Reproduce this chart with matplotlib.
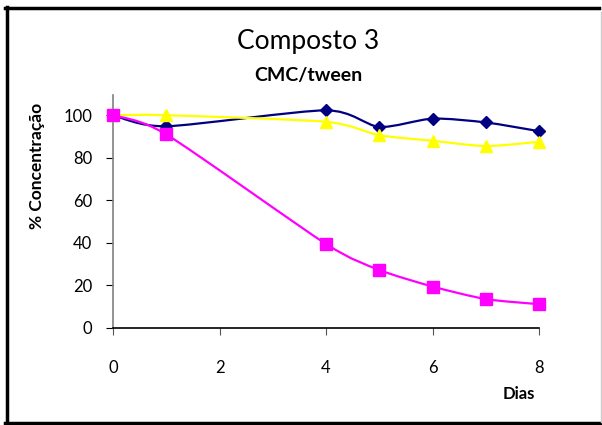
import matplotlib
matplotlib.use("Agg")
import matplotlib.pyplot as plt
from matplotlib.path import Path
from matplotlib.patches import PathPatch
from matplotlib.lines import Line2D
import numpy as np

plt.rcParams['font.family'] = ['Lato', 'DejaVu Sans']

# Dados
dias = [0, 1, 4, 5, 6, 7, 8]
serie_azul = [100, 94.8, 102.3, 94.5, 98.4, 96.6, 92.5]
serie_rosa = [100, 91, 39.5, 27.3, 19.5, 13.6, 11.2]
serie_amarela = [100, 100, 96.9, 90.6, 88, 85.5, 87.5]
xticks = [0, 2, 4, 6, 8]
yticks = [0, 20, 40, 60, 80, 100]


def smooth_path(x, y, k=1 / 8):
    # curva suavizada tipo Excel (Bezier por pontos de controlo)
    p = np.column_stack([x, y]).astype(float)
    verts = [p[0]]
    codes = [Path.MOVETO]
    n = len(p)
    for i in range(n - 1):
        p0 = p[i - 1] if i > 0 else p[i]
        p3 = p[i + 2] if i + 2 < n else p[i + 1]
        c1 = p[i] + (p[i + 1] - p0) * k
        c2 = p[i + 1] - (p3 - p[i]) * k
        verts += [c1, c2, p[i + 1]]
        codes += [Path.CURVE4] * 3
    return Path(verts, codes)


fig = plt.figure(figsize=(6.02, 4.25), dpi=100)
ax = fig.add_axes([113 / 602, 97 / 425, 426 / 602, 233 / 425])

for ys, col, mk, ms in [(serie_azul, '#000080', 'D', 6),
                        (serie_amarela, '#FFFF00', '^', 9),
                        (serie_rosa, '#FF00FF', 's', 8)]:
    ax.add_patch(PathPatch(smooth_path(dias, ys), facecolor='none',
                           edgecolor=col, lw=1.6, clip_on=False))
    ax.plot(dias, ys, linestyle='none', marker=mk, color=col, ms=ms,
            mec=col, clip_on=False, zorder=3)

ax.set_xlim(0, 8)
ax.set_ylim(0, 109.5)
ax.set_xticks(xticks)
ax.set_yticks(yticks)
ax.spines['top'].set_visible(False)
ax.spines['right'].set_visible(False)
ax.spines['left'].set_color('#808080')
ax.spines['left'].set_linewidth(1.2)
ax.spines['bottom'].set_color('black')
ax.spines['bottom'].set_linewidth(1.2)
ax.tick_params(axis='x', direction='out', length=5, pad=18, labelsize=12,
               color='#555555')
ax.tick_params(axis='y', direction='out', length=5, pad=10, labelsize=12,
               color='black')

fig.text(308 / 602, 1 - 42 / 425, 'Composto 3', ha='center', va='center',
         fontsize=19)
fig.text(308 / 602, 1 - 75 / 425, 'CMC/tween', ha='center', va='center',
         fontsize=14, fontweight='bold')
fig.text(37 / 602, 1 - 166 / 425, '% Concentração', rotation=90,
         ha='center', va='center', fontsize=12.5, fontweight='bold')
fig.text(519 / 602, 1 - 394 / 425, 'Dias', ha='center', va='center',
         fontsize=12, fontweight='bold')

# moldura
W, H = 602, 425
fig.add_artist(Line2D([6.5 / W, 6.5 / W], [1 - 7 / H, 1 - 423 / H],
                      transform=fig.transFigure, color='black', lw=2.5))
fig.add_artist(Line2D([5 / W, 599 / W], [1 - 7.5 / H, 1 - 7.5 / H],
                      transform=fig.transFigure, color='black', lw=2.5))
fig.add_artist(Line2D([5 / W, 602 / W], [1 - 423 / H, 1 - 423 / H],
                      transform=fig.transFigure, color='black', lw=2.5))
fig.add_artist(Line2D([600.5 / W, 600.5 / W], [1 - 12 / H, 1 - 422 / H],
                      transform=fig.transFigure, color='#cccccc', lw=1))

fig.savefig('out.png', dpi=100)
